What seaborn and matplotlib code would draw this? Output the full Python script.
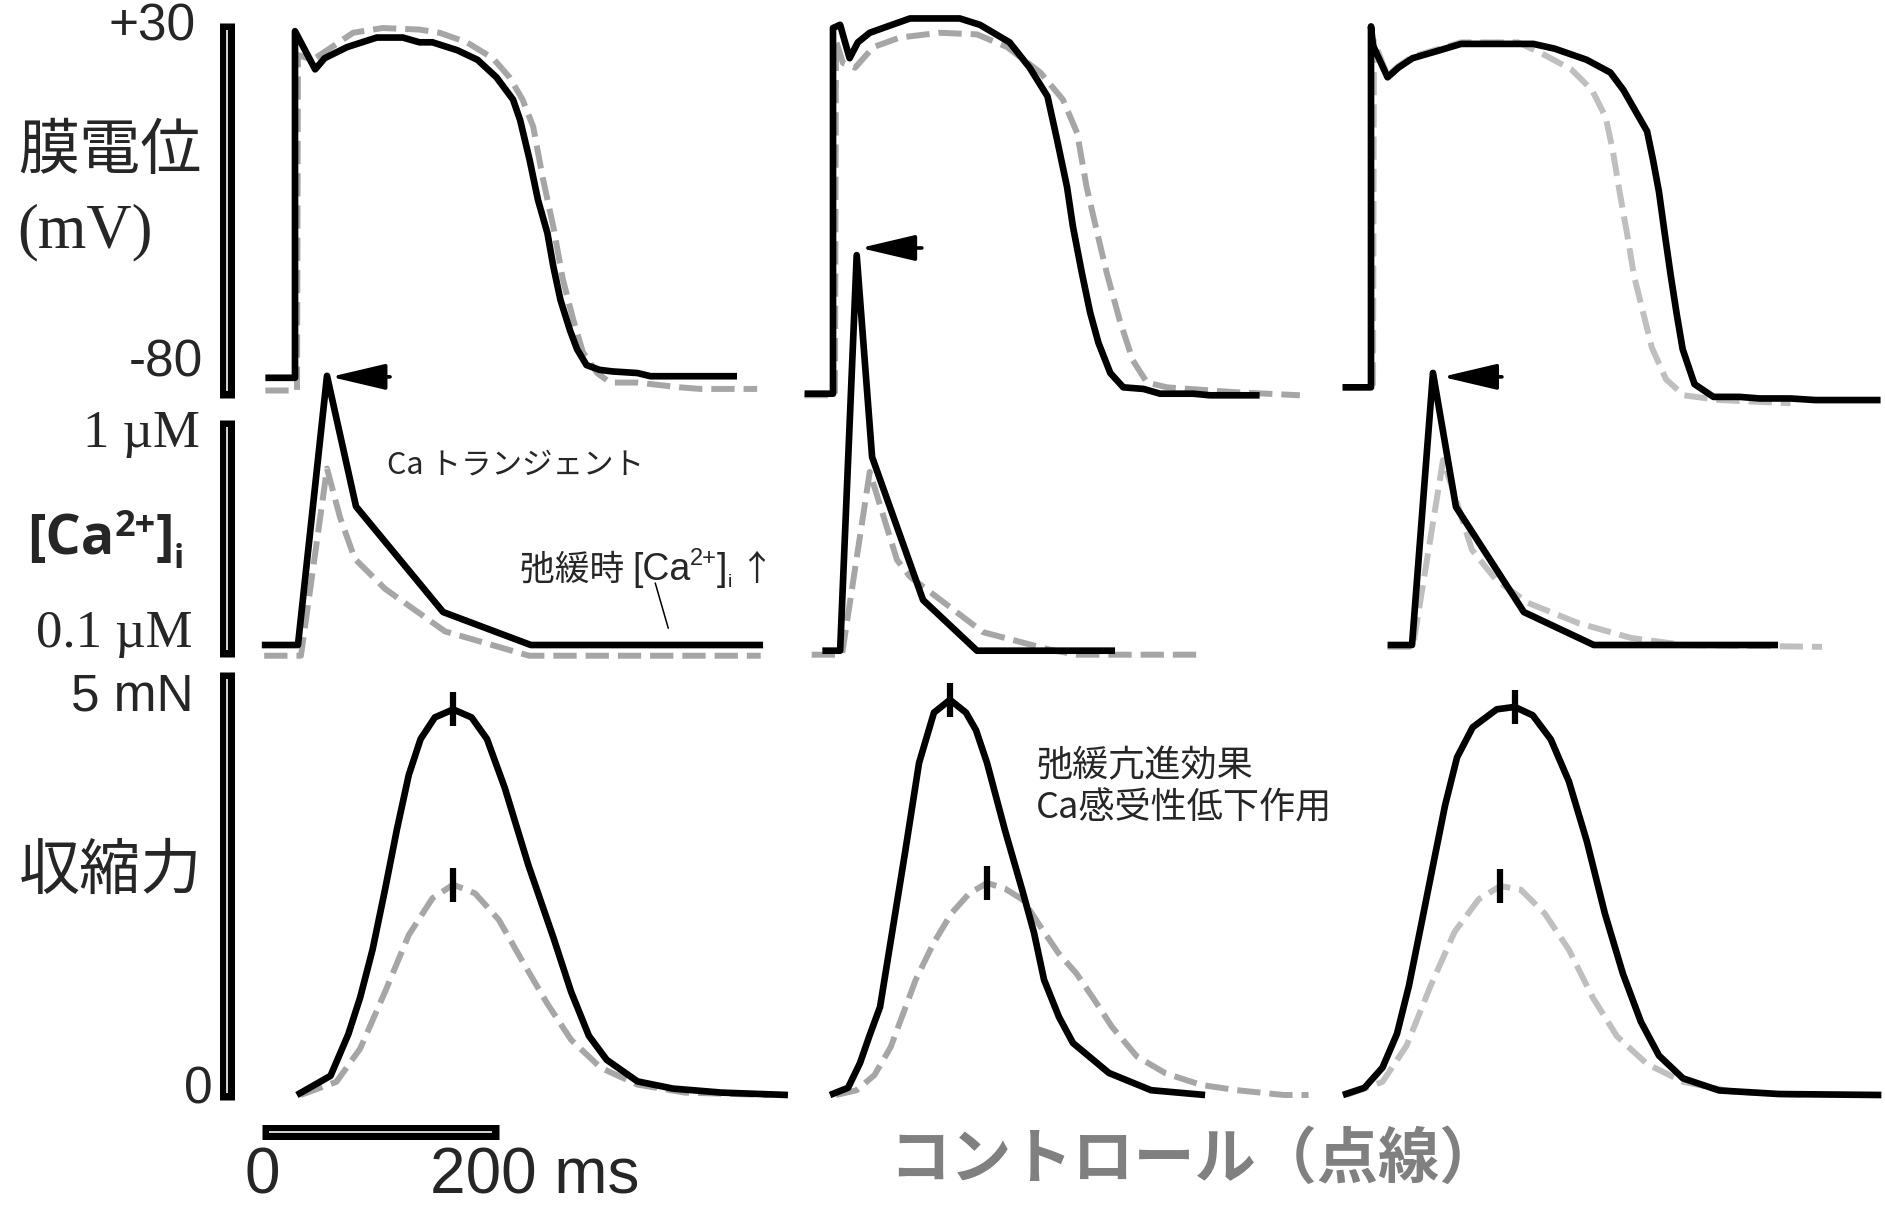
import numpy as np
import matplotlib
matplotlib.use("Agg")
import matplotlib.pyplot as plt
import seaborn as sns

# ---------------- data ----------------
# time: ms from stimulus of each panel column
# membrane potential (mV): drug = solid black, control = grey dashed
ap1_t = [-25, 0, 0, 17, 25, 44, 69, 91, 105, 116, 137, 154, 170, 184, 190, 198, 205, 213,
         218, 224, 232, 238, 246, 257, 268, 289, 300, 373]
ap1_v = [-80, -80, 29, 17, 20.5, 24, 27, 27, 25.5, 25.5, 23, 20, 14.5, 7.5, 1, -11.5, -24, -34.5,
         -45, -55.5, -65, -71, -76, -77.5, -78, -78.5, -79.5, -79.5]
ap1c_t = [-25, 1.7, 2.5, 15, 27, 49, 74, 105, 122, 145, 167, 181, 192, 201, 209, 218, 226, 235,
          243, 255, 266, 289, 325, 342, 390]
ap1c_v = [-84, -84, 21.5, 20, 23, 28.5, 30, 29.5, 28.5, 25.5, 20.5, 14.5, 7.5, -1, -17, -32.5, -49, -62,
          -72, -78.5, -81.5, -81.5, -83, -83.5, -83.5]

ap2_t = [-24, 0, 0, 6, 14, 21, 31, 46, 65, 107, 124, 149, 166, 181, 189, 197.5, 202.5, 210, 217,
         224, 234, 245, 262, 276, 304, 318, 360]
ap2_v = [-85, -85, 30, 31, 20.5, 25.5, 28.5, 30.5, 33, 33, 31, 25.5, 17.5, 8.5, -5, -20, -32.5, -47, -59.5,
         -69, -78.5, -83, -83.5, -85, -85, -85.5, -85.5]
ap2c_t = [-24, 1.7, 2.5, 8.4, 18.6, 34, 56.5, 90, 121.5, 147, 175, 194, 206, 214, 223, 231, 242, 253,
          265, 282, 338, 394]
ap2c_v = [-85.5, -85.5, 26, 19, 17.5, 24, 27, 28.5, 28, 24, 16, 7.5, -3, -20, -34.5, -47, -62, -74.5,
          -81.5, -83, -84.5, -85.5]

ap3_t = [-24, 0, 0, 1.7, 14, 23, 35, 58, 76, 137, 155, 182, 202, 213, 223, 233, 238, 243, 248, 253,
         258, 263, 273, 289, 311, 328, 354, 375, 430]
ap3_v = [-83, -83, 30.5, 24.5, 14.5, 17.5, 20.5, 23, 25, 25, 23.5, 20, 16, 10.5, 4, -2.5, -11.5, -21.5, -35, -48,
         -60, -71, -82, -86, -86, -86.5, -86.5, -87, -87]
ap3c_t = [-24, 1.7, 2.5, 14, 23, 35, 76, 124, 144, 169, 186.5, 198, 204, 210, 216, 222, 229, 237, 249,
          264, 294, 354]
ap3c_v = [-83, -83, 26, 15, 18, 21, 25.5, 25.5, 22, 17, 10.5, 2, -8.5, -22, -34.5, -48, -58.5, -70.5, -80.5,
          -85.5, -87, -88]

# intracellular Ca (µM, log scale)
ca1_t = [-28, 2.5, 27, 51.5, 125, 199, 395]
ca1_c = [0.1, 0.1, 1.86, 0.45, 0.143, 0.1, 0.1]
ca1c_t = [-26, 5, 27, 38, 50.5, 76, 126.5, 197.5, 393]
ca1c_c = [0.089, 0.089, 0.68, 0.40, 0.255, 0.184, 0.116, 0.089, 0.089]

ca2_t = [-9, 6, 20, 33, 76, 121.5, 238]
ca2_c = [0.094, 0.094, 6.9, 0.77, 0.163, 0.094, 0.094]
ca2c_t = [-18, 7.6, 31, 54, 65, 126.5, 183, 206, 310]
ca2c_c = [0.09, 0.09, 0.655, 0.252, 0.21, 0.115, 0.095, 0.09, 0.09]

ca3_t = [14, 34.6, 52.3, 71.7, 129, 188, 343.5]
ca3_c = [0.1, 0.1, 1.92, 0.448, 0.143, 0.1, 0.1]
ca3c_t = [14, 35.4, 60.8, 72.6, 85.2, 105.5, 132.5, 174.7, 219.4, 264, 380.6]
ca3c_c = [0.098, 0.098, 0.746, 0.468, 0.281, 0.203, 0.158, 0.127, 0.108, 0.1, 0.098]

# contractile force (mN)
f1_t = [1.6, 30, 45, 55, 65.5, 76, 86, 96, 106, 118, 133.5, 149, 162, 177, 197, 218, 233, 248, 263,
        289, 319, 360, 416]
f1_f = [0, 0.24, 0.76, 1.22, 1.82, 2.57, 3.32, 4.0, 4.45, 4.72, 4.82, 4.72, 4.45, 3.84, 2.87, 1.97, 1.29,
        0.74, 0.44, 0.17, 0.08, 0.03, 0]
f1c_t = [4.7, 35, 55, 76, 96, 116, 133.5, 152, 172, 192, 213, 233, 258, 289, 329, 400]
f1c_f = [0, 0.165, 0.58, 1.29, 2.0, 2.46, 2.63, 2.52, 2.19, 1.67, 1.14, 0.69, 0.34, 0.13, 0.03, 0]

f2_t = [-2.5, 12.7, 22.8, 31, 39.7, 60.8, 72.6, 85.2, 98.7, 112.2, 120.7, 130, 145.1, 160.3, 169.6,
        178.1, 190.7, 202.5, 232.9, 268.4, 314]
f2_f = [0, 0.09, 0.4, 0.75, 1.1, 3.03, 4.15, 4.78, 4.94, 4.78, 4.56, 4.15, 3.31, 2.53, 2.03,
        1.44, 0.975, 0.65, 0.275, 0.06, 0]
f2c_t = [2.5, 20, 35, 48.7, 69.8, 84.9, 99.9, 115, 130.1, 145.1, 160.2, 175.3, 190.4, 205.4, 220.5,
         235.5, 256.6, 280.8, 310.9, 341, 380.3, 401.3]
f2c_f = [0, 0.06, 0.25, 0.6, 1.44, 1.9, 2.27, 2.52, 2.65, 2.58, 2.44, 2.1, 1.77, 1.52, 1.19,
         0.85, 0.48, 0.27, 0.125, 0.06, 0, 0]

f3_t = [-23.7, -5.5, 9.7, 21.9, 32, 42.2, 52.3, 62.5, 72.6, 85.8, 106.1, 121.3, 136.5, 151.7, 167,
        182.2, 197.4, 212.6, 227.8, 243, 263.3, 293.8, 344.5, 430.7]
f3_f = [0, 0.09, 0.343, 0.764, 1.365, 2.116, 2.868, 3.62, 4.22, 4.596, 4.821, 4.851, 4.746, 4.446, 3.92,
        3.168, 2.267, 1.515, 0.914, 0.493, 0.208, 0.057, 0.012, 0]
f3c_t = [-20.7, 9.7, 30, 50.3, 70.6, 90.9, 109.1, 126.4, 146.7, 167, 187.3, 207.6, 232.9, 263.3, 303.9, 364.8]
f3c_f = [0, 0.165, 0.616, 1.365, 2.041, 2.447, 2.612, 2.567, 2.267, 1.816, 1.214, 0.733, 0.388, 0.165, 0.045, 0]

# peak markers on the force traces (ms, mN)
peak_t = [133.5, 98.7, 121.3]
peak_f = [4.82, 4.94, 4.85]
peakc_t = [133.5, 130.1, 109.1]
peakc_f = [2.63, 2.65, 2.61]

# arrows marking the Ca transient peak: tip time, tail time, level (µM)
arrow_tip_t = [30, 23, 60]
arrow_tail_t = [80.2, 75, 110.5]
arrow_c = [1.84, 7.46, 1.84]

# calibration bars
mv_bar = [31.6, -86.4]
ca_bar = [1.15, 0.0877]
mn_bar = [5.29, -0.06]
time_bar_start = -28
time_bar_len = 200

# ---------------- layout ----------------
sns.set_theme(style="white")
CJK = ["Noto Sans CJK JP", "DejaVu Sans"]
plt.rcParams["font.family"] = CJK

W, H = 1885, 1205
fig = plt.figure(figsize=(W / 100, H / 100), dpi=100)
fig.patch.set_facecolor("white")

PX_MS = 1.185
COL_X0 = [295, 833, 1371]
T_LIM = (-70, 440)


def y_mv(v):
    return 28 + (30 - v) * 3.18


def y_ca(c):
    return 645 - (np.log10(c) + 1) * 212


def y_mn(f):
    return 1095 - 80 * f


ROWS = [(y_mv, (-95, 40), "linear"), (y_ca, (0.07, 12), "log"), (y_mn, (-1.3, 5.6), "linear")]

axes = [[None] * 3 for _ in range(3)]
for r, (yfun, ylim, scale) in enumerate(ROWS):
    ytop, ybot = yfun(ylim[1]), yfun(ylim[0])
    for c, x0 in enumerate(COL_X0):
        xl = x0 + T_LIM[0] * PX_MS
        xr = x0 + T_LIM[1] * PX_MS
        ax = fig.add_axes([xl / W, 1 - ybot / H, (xr - xl) / W, (ybot - ytop) / H])
        ax.set_facecolor("none")
        ax.set_yscale(scale)
        ax.set_xlim(*T_LIM)
        ax.set_ylim(*ylim)
        ax.axis("off")
        axes[r][c] = ax

GREY = ["#a6a6a6", "#a6a6a6", "#bfbfbf"]
LW_BLACK = 4.8
LW_GREY = 4.3


def trace(ax, t, y, color, dashed):
    kw = dict(color=color, sort=False, estimator=None, legend=False, clip_on=False)
    if dashed:
        kw.update(linewidth=LW_GREY, linestyle=(0, (3.9, 1.5)), dash_capstyle="butt",
                  dash_joinstyle="round", zorder=2)
    else:
        kw.update(linewidth=LW_BLACK, solid_capstyle="butt", solid_joinstyle="round", zorder=3)
    sns.lineplot(x=t, y=y, ax=ax, **kw)


series = [
    [(ap1_t, ap1_v, ap1c_t, ap1c_v), (ap2_t, ap2_v, ap2c_t, ap2c_v), (ap3_t, ap3_v, ap3c_t, ap3c_v)],
    [(ca1_t, ca1_c, ca1c_t, ca1c_c), (ca2_t, ca2_c, ca2c_t, ca2c_c), (ca3_t, ca3_c, ca3c_t, ca3c_c)],
    [(f1_t, f1_f, f1c_t, f1c_f), (f2_t, f2_f, f2c_t, f2c_f), (f3_t, f3_f, f3c_t, f3c_f)],
]
for r in range(3):
    for c in range(3):
        t, y, tc, yc = series[r][c]
        ax = axes[r][c]
        trace(ax, tc, yc, GREY[c], True)
        trace(ax, t, y, "black", False)

# peak ticks on force traces
for c in range(3):
    ax = axes[2][c]
    ax.plot([peak_t[c], peakc_t[c]], [peak_f[c], peakc_f[c]], ls="none", marker="|",
            ms=24, mew=4.5, color="black", zorder=4, clip_on=False)

# arrows at the Ca transient peaks
for c in range(3):
    ax = axes[1][c]
    ax.annotate("", xy=(arrow_tip_t[c], arrow_c[c]), xytext=(arrow_tail_t[c], arrow_c[c]),
                annotation_clip=False,
                arrowprops=dict(arrowstyle="-|>,head_length=34,head_width=8", mutation_scale=1,
                                lw=2.6, color="black", shrinkA=0, shrinkB=0))

# calibration bars (thick black with a thin light core)
BAR_T = -57
BAR_LW = 10.8
CORE_LW = 1.3
CORE_C = "#e6e6e6"
bars = [(axes[0][0], mv_bar, 2.2), (axes[1][0], ca_bar, None), (axes[2][0], mn_bar, 0.09)]
for ax, lims, inset in bars:
    ax.plot([BAR_T, BAR_T], lims, color="black", lw=BAR_LW, solid_capstyle="butt", clip_on=False)
    if inset is None:
        core = [lims[0] / 1.075, lims[1] * 1.075]
    else:
        core = [lims[0] - inset, lims[1] + inset]
    ax.plot([BAR_T, BAR_T], core, color=CORE_C, lw=CORE_LW, solid_capstyle="butt", clip_on=False)

axf = axes[2][0]
tb = [time_bar_start, time_bar_start + time_bar_len]
axf.plot(tb, [-0.46, -0.46], color="black", lw=BAR_LW, solid_capstyle="butt", clip_on=False)
axf.plot([tb[0] + 6, tb[1] - 6], [-0.46, -0.46], color=CORE_C, lw=CORE_LW,
         solid_capstyle="butt", clip_on=False)

# leader line for the diastolic Ca note
axes[1][0].plot([304, 315], [0.196, 0.120], color="black", lw=1.1, clip_on=False)


# ---------------- text ----------------
def fx(x):
    return x / W


def fy(y):
    return 1 - y / H


renderer = fig.canvas.get_renderer()


def rich_text(x, pieces, **common):
    """Lay out text pieces left to right; each piece = (text, size, baseline_y, extra kwargs)."""
    cx = x
    for s, size, base, extra in pieces:
        kw = dict(common)
        kw.update(extra)
        t = fig.text(fx(cx), fy(base), s, fontsize=size, ha="left", va="baseline", **kw)
        cx += t.get_window_extent(renderer).width


SANS = "Liberation Sans"
SERIF = "Liberation Serif"
BOLD_SANS = ["Open Sans", "DejaVu Sans"]

fig.text(fx(196), fy(27), "+30", ha="right", va="center", fontsize=37, family=SANS)
fig.text(fx(203), fy(363), "-80", ha="right", va="center", fontsize=37, family=SANS)
fig.text(fx(110), fy(152), "膜電位", ha="center", va="center", fontsize=44)
fig.text(fx(85), fy(232), "(mV)", ha="center", va="center", fontsize=45, family=SERIF)

fig.text(fx(200), fy(434), "1 µM", ha="right", va="center", fontsize=38, family=SERIF)
fig.text(fx(193), fy(634), "0.1 µM", ha="right", va="center", fontsize=38, family=SERIF)
rich_text(27, [("[Ca", 40, 554, {}), ("2+", 26, 536, {}), ("]", 40, 554, {}), ("i", 24, 568, {})],
          family=BOLD_SANS, fontweight="bold")

fig.text(fx(194), fy(697), "5 mN", ha="right", va="center", fontsize=37, family=SANS)
fig.text(fx(213), fy(1090), "0", ha="right", va="center", fontsize=37, family=SANS)
fig.text(fx(111), fy(872), "収縮力", ha="center", va="center", fontsize=44)

fig.text(fx(262), fy(1176), "0", ha="center", va="center", fontsize=46, family=SANS)
fig.text(fx(430), fy(1176), "200 ms", ha="left", va="center", fontsize=46, family=SANS)

fig.text(fx(387), fy(465), "Ca トランジェント", ha="left", va="center", fontsize=22)
rich_text(520, [("弛緩時 ", 25, 580, {}), ("[Ca", 27, 580, {"family": SANS}),
                ("2+", 17, 565, {"family": SANS}), ("]", 27, 580, {"family": SANS}),
                ("i", 14, 587, {"family": SANS}), (" ↑", 25, 580, {})], family=CJK)
fig.text(fx(1036), fy(766), "弛緩亢進効果", ha="left", va="center", fontsize=26)
fig.text(fx(1036), fy(809), "Ca感受性低下作用", ha="left", va="center", fontsize=26)

fig.text(fx(889), fy(1160), "コントロール（点線）", ha="left", va="center", fontsize=44,
         fontweight="bold", color="#808080")

fig.savefig("out.png", dpi=100, facecolor="white")
